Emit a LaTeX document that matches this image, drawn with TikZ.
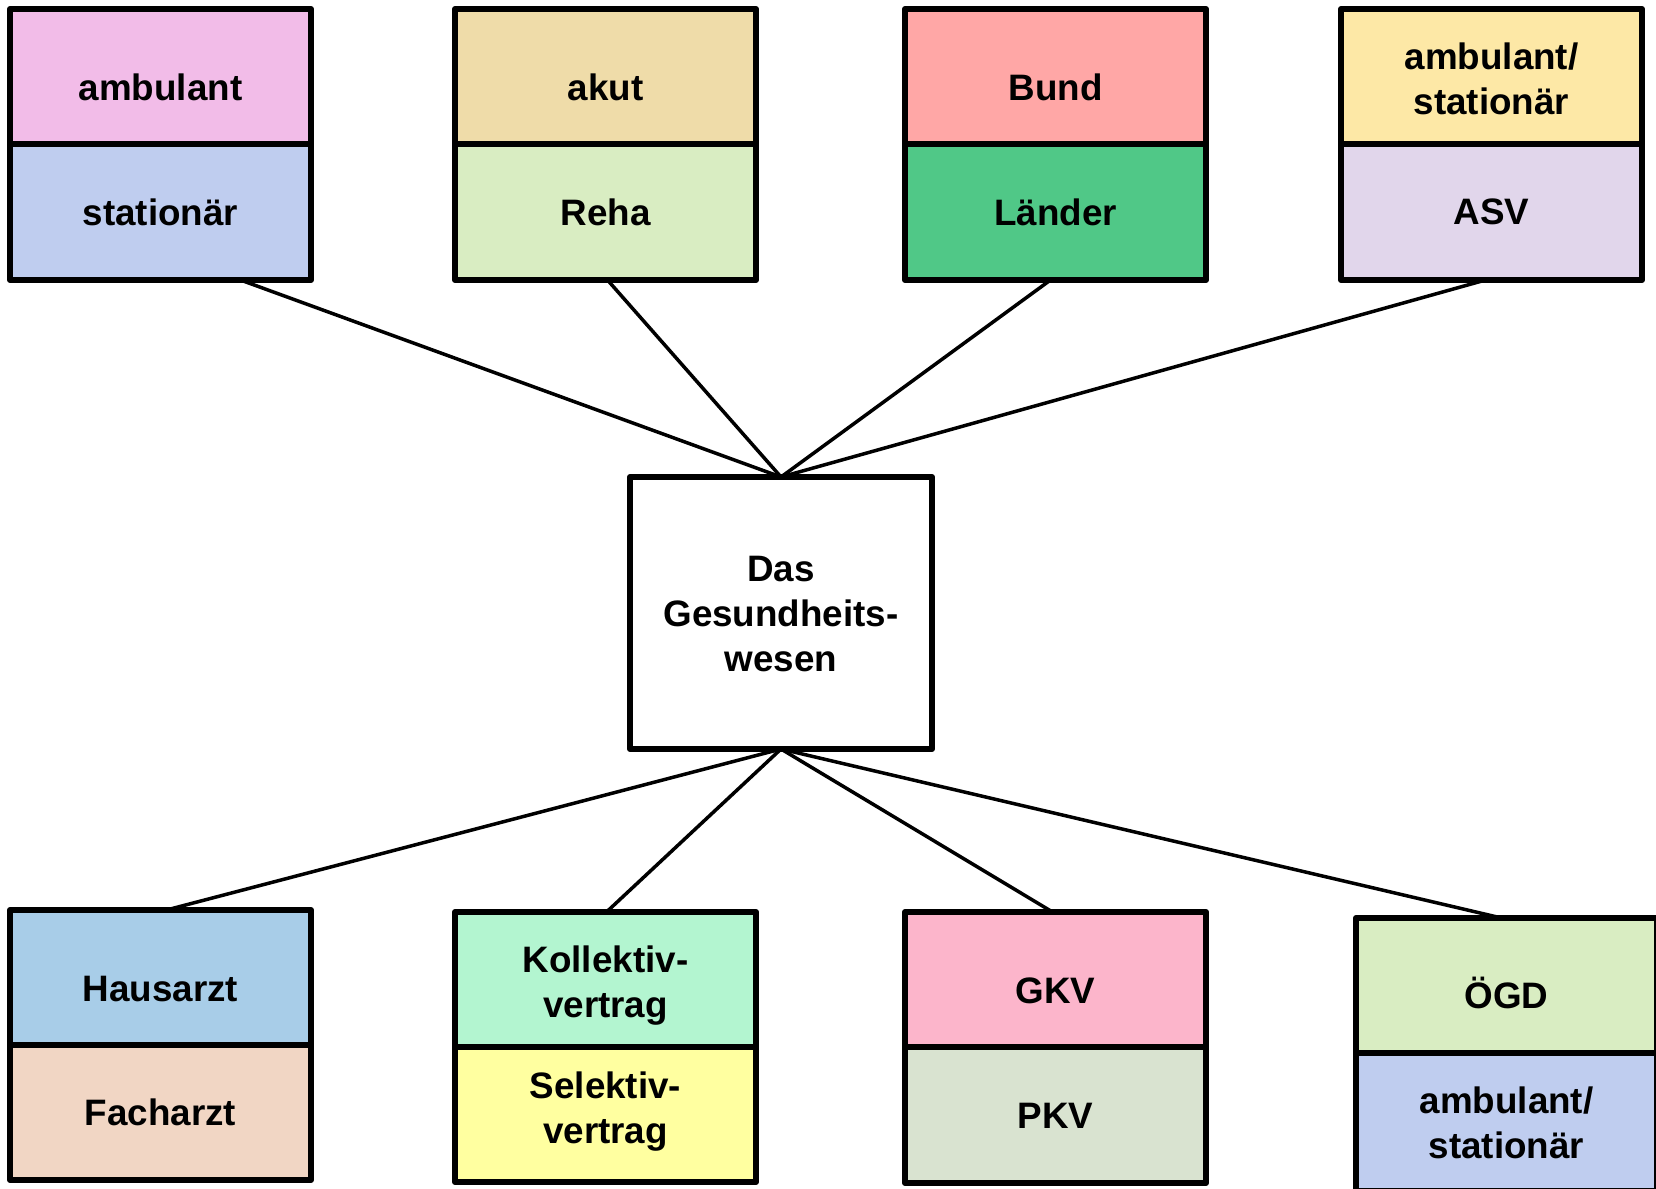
\documentclass[tikz,border=0pt]{standalone}
\usepackage{fontspec}
\setmainfont{Liberation Sans}
\usetikzlibrary{backgrounds}
\definecolor{cAmb}{RGB}{242,188,232}
\definecolor{cStat}{RGB}{191,205,239}
\definecolor{cAkut}{RGB}{239,220,169}
\definecolor{cReha}{RGB}{217,237,194}
\definecolor{cBund}{RGB}{255,167,166}
\definecolor{cLaend}{RGB}{80,200,135}
\definecolor{cAmbSt}{RGB}{253,232,166}
\definecolor{cASV}{RGB}{225,214,235}
\definecolor{cHaus}{RGB}{168,205,232}
\definecolor{cFach}{RGB}{241,214,196}
\definecolor{cKoll}{RGB}{179,245,208}
\definecolor{cSel}{RGB}{255,255,160}
\definecolor{cGKV}{RGB}{252,181,203}
\definecolor{cPKV}{RGB}{217,227,208}
\tikzset{
  half/.style={draw, line width=6pt, rectangle, inner sep=0pt, outer sep=0pt,
    anchor=north west, minimum width=301pt, line join=round},
  lbl/.style={inner sep=0pt, align=center,
    font=\fontsize{36.8}{45}\selectfont\bfseries},
  conn/.style={line width=3.5pt}
}
\begin{document}
\begin{tikzpicture}[x=1pt,y=-1pt]
\useasboundingbox (0,0) rectangle (1656,1188);
% top row
\node[half, fill=cAmb,  minimum height=135pt, label={[lbl,yshift=-11pt]center:ambulant}] (a1) at (10,9) {};
\node[half, fill=cStat, minimum height=136pt, label={[lbl]center:stationär}] (a2) at (10,144) {};
\node[half, fill=cAkut, minimum height=135pt, label={[lbl,yshift=-11pt]center:akut}] (b1) at (455,9) {};
\node[half, fill=cReha, minimum height=136pt, label={[lbl]center:Reha}] (b2) at (455,144) {};
\node[half, fill=cBund, minimum height=135pt, label={[lbl,yshift=-11pt]center:Bund}] (d1) at (905,9) {};
\node[half, fill=cLaend, minimum height=136pt, label={[lbl]center:Länder}] (d2) at (905,144) {};
\node[half, fill=cAmbSt, minimum height=135pt, label={[lbl,yshift=-2pt]center:ambulant/\\stationär}] (e1) at (1341,9) {};
\node[half, fill=cASV, minimum height=136pt, label={[lbl]center:ASV}] (e2) at (1341,144) {};
% center
\node[half, fill=white, minimum width=302pt, minimum height=272pt, label={[lbl,yshift=-1pt]center:Das\\Gesundheits-\\wesen}] (c) at (630,477) {};
% bottom row
\node[half, fill=cHaus, minimum height=135pt, label={[lbl,yshift=-12pt]center:Hausarzt}] (f1) at (10,910) {};
\node[half, fill=cFach, minimum height=135pt, label={[lbl]center:Facharzt}] (f2) at (10,1045) {};
\node[half, fill=cKoll, minimum height=135pt, label={[lbl,yshift=-6pt]center:Kollektiv-\\vertrag}] (g1) at (455,912) {};
\node[half, fill=cSel,  minimum height=135pt, label={[lbl,yshift=3pt]center:Selektiv-\\vertrag}] (g2) at (455,1047) {};
\node[half, fill=cGKV,  minimum height=135pt, label={[lbl,yshift=-11pt]center:GKV}] (h1) at (905,912) {};
\node[half, fill=cPKV,  minimum height=136pt, label={[lbl,yshift=-1pt]center:PKV}] (h2) at (905,1047) {};
\node[half, fill=cReha, minimum height=135pt, label={[lbl,yshift=-7pt]center:ÖGD}] (k1) at (1356,918) {};
\node[half, fill=cStat, minimum height=138pt, label={[lbl,yshift=-1pt]center:ambulant/\\stationär}] (k2) at (1356,1053) {};
% connectors
\begin{scope}[on background layer]
\draw[conn] ([xshift=80pt]a2.south) -- (c.north);
\draw[conn] ([xshift=2pt]b2.south) -- (c.north);
\draw[conn] ([xshift=-5pt]d2.south) -- (c.north);
\draw[conn] ([xshift=-6pt]e2.south) -- (c.north);
\draw[conn] ([xshift=6pt]f1.north) -- (c.south);
\draw[conn] ([xshift=1pt]g1.north) -- (c.south);
\draw[conn] ([xshift=-3pt]h1.north) -- (c.south);
\draw[conn] ([xshift=-5pt]k1.north) -- (c.south);
\end{scope}
\end{tikzpicture}
\end{document}
